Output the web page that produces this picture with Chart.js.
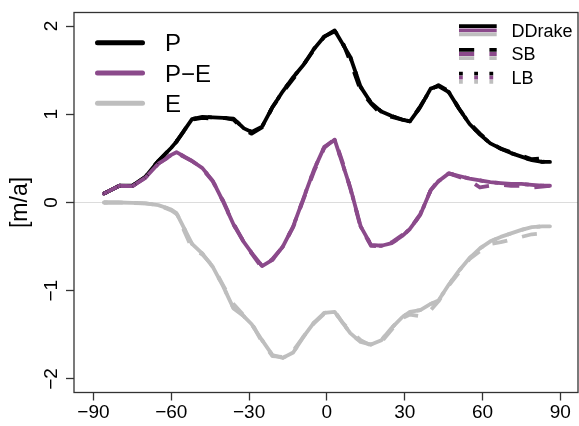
<!DOCTYPE html>
<html>
<head>
<meta charset="utf-8">
<script src="https://cdn.jsdelivr.net/npm/chart.js@4"></script>
<style>
  html, body { margin: 0; padding: 0; background: #fff; }
  #wrap { width: 579px; height: 426px; }
</style>
</head>
<body>
<div id="wrap"><canvas id="chart"></canvas></div>
<script>
// latitude grid (deg)
const lats = [-86, -80, -75, -70, -65, -60, -58, -52, -48, -44, -40, -36, -32, -29, -25, -21, -17, -13, -9, -5, -1,
  3, 6, 9, 13, 17, 21, 25, 29, 32, 36, 40, 43, 47, 51, 55, 59, 63, 67, 71, 75, 79, 83, 86];

// DDrake (solid)
const pDD = [0.10, 0.19, 0.19, 0.29, 0.47, 0.62, 0.69, 0.945, 0.97, 0.965, 0.96, 0.95, 0.84, 0.80, 0.86, 1.08, 1.26, 1.42, 1.56, 1.74, 1.88,
  1.95, 1.80, 1.65, 1.31, 1.13, 1.03, 0.98, 0.94, 0.92, 1.08, 1.29, 1.32, 1.25, 1.06, 0.89, 0.77, 0.67, 0.61, 0.56, 0.52, 0.48, 0.46, 0.46];
const pmeDD = [0.10, 0.19, 0.185, 0.28, 0.44, 0.54, 0.57, 0.47, 0.39, 0.245, 0.01, -0.25, -0.45, -0.57, -0.72, -0.65, -0.50, -0.27, 0.05, 0.37, 0.63,
  0.71, 0.44, 0.17, -0.27, -0.48, -0.49, -0.46, -0.38, -0.30, -0.14, 0.14, 0.24, 0.33, 0.30, 0.27, 0.25, 0.23, 0.22, 0.21, 0.21, 0.20, 0.19, 0.19];
const eDD = [0.00, 0.00, -0.005, -0.01, -0.03, -0.08, -0.12, -0.47, -0.58, -0.73, -0.95, -1.20, -1.29, -1.38, -1.56, -1.73, -1.76, -1.70, -1.52, -1.36, -1.25,
  -1.24, -1.36, -1.48, -1.58, -1.61, -1.56, -1.42, -1.30, -1.24, -1.22, -1.15, -1.11, -0.93, -0.77, -0.63, -0.52, -0.44, -0.39, -0.35, -0.31, -0.28, -0.27, -0.27];

// SB (dashed)
const pSB = [0.10, 0.19, 0.19, 0.29, 0.47, 0.62, 0.69, 0.94, 0.96, 0.95, 0.96, 0.94, 0.82, 0.78, 0.85, 1.08, 1.25, 1.40, 1.56, 1.73, 1.88,
  1.94, 1.82, 1.60, 1.27, 1.12, 1.00, 0.97, 0.94, 0.92, 1.09, 1.28, 1.33, 1.26, 1.06, 0.90, 0.78, 0.68, 0.61, 0.57, 0.53, 0.49, 0.50, 0.56];
const pmeSB = [0.10, 0.19, 0.185, 0.28, 0.44, 0.53, 0.56, 0.47, 0.38, 0.24, 0.02, -0.24, -0.45, -0.58, -0.74, -0.64, -0.50, -0.28, 0.04, 0.35, 0.62,
  0.72, 0.46, 0.16, -0.28, -0.49, -0.50, -0.45, -0.37, -0.30, -0.13, 0.14, 0.25, 0.33, 0.29, 0.25, 0.17, 0.19, 0.20, 0.19, 0.19, 0.17, 0.18, 0.19];
const eSB = [0.00, 0.00, -0.005, -0.01, -0.03, -0.09, -0.13, -0.52, -0.59, -0.72, -0.94, -1.15, -1.28, -1.37, -1.58, -1.74, -1.75, -1.68, -1.52, -1.37, -1.26,
  -1.23, -1.36, -1.45, -1.56, -1.62, -1.58, -1.44, -1.31, -1.27, -1.29, -1.22, -1.12, -0.94, -0.79, -0.64, -0.55, -0.47, -0.45, -0.42, -0.39, -0.36, -0.35, -0.38];

// LB (dotted)
const pLB = [0.10, 0.19, 0.19, 0.29, 0.47, 0.62, 0.69, 0.945, 0.97, 0.965, 0.96, 0.95, 0.84, 0.80, 0.86, 1.08, 1.26, 1.42, 1.56, 1.74, 1.88,
  1.95, 1.80, 1.65, 1.31, 1.13, 1.03, 0.98, 0.94, 0.92, 1.08, 1.29, 1.32, 1.25, 1.06, 0.89, 0.77, 0.67, 0.61, 0.56, 0.52, 0.48, 0.46, 0.47];
const pmeLB = [0.10, 0.19, 0.185, 0.28, 0.44, 0.54, 0.57, 0.47, 0.39, 0.245, 0.01, -0.25, -0.45, -0.57, -0.72, -0.65, -0.50, -0.27, 0.05, 0.37, 0.63,
  0.71, 0.44, 0.17, -0.27, -0.48, -0.49, -0.46, -0.38, -0.30, -0.14, 0.14, 0.24, 0.33, 0.30, 0.27, 0.25, 0.23, 0.22, 0.21, 0.21, 0.20, 0.19, 0.19];
const eLB = [0.00, 0.00, -0.005, -0.01, -0.03, -0.08, -0.12, -0.47, -0.58, -0.73, -0.95, -1.20, -1.29, -1.38, -1.56, -1.73, -1.76, -1.70, -1.52, -1.36, -1.25,
  -1.24, -1.36, -1.48, -1.58, -1.61, -1.56, -1.42, -1.30, -1.24, -1.22, -1.15, -1.11, -0.93, -0.77, -0.63, -0.52, -0.44, -0.39, -0.35, -0.31, -0.28, -0.27, -0.27];

const xTicks = [-90, -60, -30, 0, 30, 60, 90];
const yTicks = [-2, -1, 0, 1, 2];
const varNames = ["P", "P\u2212E", "E"];
const sourceNames = ["DDrake", "SB", "LB"];

const colors = ["#000000", "#8b4a8b", "#bebebe"];
const LW = 3.8;
const dashes = [[], [15.2, 15.2], [3.8, 11.4]];
const FONT = "'Liberation Sans', Arial, Helvetica, sans-serif";

const series = [
  [pDD, pmeDD, eDD],
  [pSB, pmeSB, eSB],
  [pLB, pmeLB, eLB]
];

const datasets = [];
series.forEach((group, s) => {
  group.forEach((vals, v) => {
    datasets.push({
      label: sourceNames[s] + " " + varNames[v],
      data: lats.map((x, i) => ({ x: x, y: vals[i] })),
      borderColor: colors[v],
      borderWidth: LW,
      borderDash: dashes[s],
      borderCapStyle: s === 0 ? "round" : "butt",
      borderJoinStyle: "round",
      pointRadius: 0,
      fill: false,
      tension: 0
    });
  });
});
// later datasets on top
datasets.forEach((d, i) => { d.order = -i; });

const minus = v => String(v).replace("-", "\u2212");

// frame, rotated y labels, the two legends
const extras = {
  id: "extras",
  afterDraw(chart) {
    const ctx = chart.ctx;
    const a = chart.chartArea;
    ctx.save();
    ctx.setLineDash([]);
    ctx.lineDashOffset = 0;
    ctx.strokeStyle = "#333";
    ctx.lineWidth = 1.3;
    ctx.strokeRect(a.left, a.top, a.right - a.left, a.bottom - a.top);

    // y tick labels, rotated like R does
    const ys = chart.scales.y;
    ctx.fillStyle = "#000";
    ctx.font = "19px " + FONT;
    ctx.textAlign = "center";
    ctx.textBaseline = "alphabetic";
    yTicks.forEach(v => {
      ctx.save();
      ctx.translate(a.left - 17, ys.getPixelForValue(v));
      ctx.rotate(-Math.PI / 2);
      ctx.fillText(minus(v), 0, 0);
      ctx.restore();
    });

    // variable legend (top left)
    ctx.lineCap = "round";
    ctx.font = "24px " + FONT;
    ctx.textAlign = "left";
    varNames.forEach((name, i) => {
      const y = 42.7 + i * 30.3;
      ctx.strokeStyle = colors[i];
      ctx.lineWidth = 5;
      ctx.beginPath();
      ctx.moveTo(97.5, y);
      ctx.lineTo(142.5, y);
      ctx.stroke();
      ctx.fillText(name, 165, y + 8.6);
    });

    // source legend (top right)
    ctx.font = "18px " + FONT;
    ctx.lineCap = "butt";
    sourceNames.forEach((name, s) => {
      const yc = 30.3 + s * 23.7;
      ctx.setLineDash(dashes[s]);
      ctx.lineDashOffset = 0;
      colors.forEach((c, v) => {
        const y = yc + (v - 1) * 4.1;
        ctx.strokeStyle = c;
        ctx.lineWidth = LW;
        ctx.beginPath();
        ctx.moveTo(459, y);
        ctx.lineTo(496.7, y);
        ctx.stroke();
      });
      ctx.setLineDash([]);
      ctx.fillText(name, 511.5, yc + 6.4);
    });
    ctx.restore();
  }
};

const chart = new Chart(document.getElementById("chart"), {
  type: "line",
  data: { datasets: datasets },
  options: {
    responsive: true,
    maintainAspectRatio: false,
    animation: false,
    devicePixelRatio: 1,
    layout: { padding: { top: 12.5, right: 1, left: 0, bottom: 0 } },
    plugins: { legend: { display: false }, tooltip: { enabled: false } },
    scales: {
      x: {
        type: "linear",
        min: -97.5,
        max: 96.8,
        afterBuildTicks: s => { s.ticks = xTicks.map(v => ({ value: v })); },
        afterFit: s => { s.height = 33.5; },
        border: { display: false },
        grid: { drawOnChartArea: false, tickLength: 8, tickColor: "#333", tickWidth: 1.3 },
        ticks: {
          autoSkip: false, maxRotation: 0, padding: 1,
          color: "#000", font: { family: FONT, size: 19 },
          callback: v => minus(v)
        }
      },
      y: {
        type: "linear",
        min: -2.153,
        max: 2.153,
        afterBuildTicks: s => { s.ticks = yTicks.map(v => ({ value: v })); },
        afterFit: s => { s.width = 74; },
        border: { display: false },
        grid: {
          color: c => (c.tick && c.tick.value === 0) ? "#dcdcdc" : "rgba(0,0,0,0)",
          lineWidth: 1,
          tickLength: 8, tickColor: "#333", tickWidth: 1.3
        },
        ticks: { display: false },
        title: {
          display: true, text: "[m/a]", color: "#000",
          font: { family: FONT, size: 23 },
          padding: { top: 7, bottom: 0 }
        }
      }
    }
  },
  plugins: [extras]
});
</script>
</body>
</html>
